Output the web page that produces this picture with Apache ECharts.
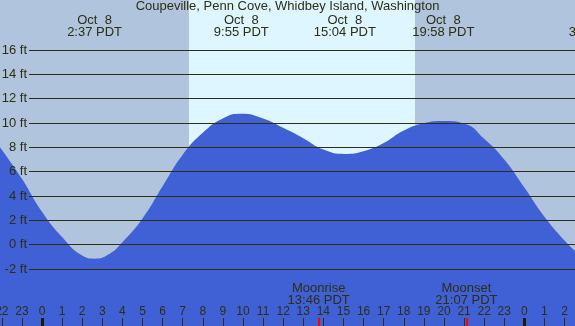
<!DOCTYPE html>
<html>
<head>
<meta charset="utf-8">
<script src="https://cdn.jsdelivr.net/npm/echarts@6/dist/echarts.min.js"></script>
<style>
html, body { margin: 0; padding: 0; background: #b0c4de; }
#main { width: 575px; height: 326px; }
</style>
</head>
<body>
<div id="main"></div>
<script>
// tide height (ft) against hours since midnight Oct 8
var tideHours = [-2.09, -1, 0, 1, 2, 2.62, 3.3, 4, 5, 6, 7, 8, 9, 9.92, 11, 12, 13,
    14, 15.07, 16, 17, 18, 19, 19.97, 21, 22, 23, 24, 25, 26, 26.52];
var tideFeet = [8.0, 5.42, 2.7, 0.62, -0.9, -1.15, -0.81, 0.2, 2.15, 4.8, 7.4, 9.2, 10.38, 10.76, 10.37, 9.6, 8.75,
    7.82, 7.46, 7.68, 8.35, 9.38, 9.97, 10.16, 9.96, 8.7, 7.0, 4.7, 2.3, 0.35, -0.5];

var eventHours = [2.617, 9.917, 15.067, 19.967];
var eventDays = ['Oct  8', 'Oct  8', 'Oct  8', 'Oct  8'];
var eventTimes = ['2:37 PDT', '9:55 PDT', '15:04 PDT', '19:58 PDT'];
var nextEventHour = 27.58;
var nextEventText = 'Oct  9\n3:35 PDT';

var sunHours = [7.31, 18.56];
var moonHours = [13.767, 21.117];
var moonNames = ['Moonrise', 'Moonset'];
var moonTimes = ['13:46 PDT', '21:07 PDT'];

var hourTicks = [-2, -1, 0, 1, 2, 3, 4, 5, 6, 7, 8, 9, 10, 11, 12, 13, 14, 15, 16, 17, 18, 19, 20, 21, 22, 23, 24, 25, 26];
var midnightTicks = [0, 24];

var xMin = -2.09, xMax = 26.52;
var ink = '#2e2e10';
var font = 'Liberation Sans';

function nearest(list, v) {
    var best = 0;
    for (var i = 1; i < list.length; i++) {
        if (Math.abs(list[i] - v) < Math.abs(list[best] - v)) best = i;
    }
    return best;
}

var tideData = tideHours.map(function (h, i) { return [h, tideFeet[i]]; });

var dom = document.getElementById('main');
var myChart = echarts.init(dom);

function xAxisBase(extra) {
    var a = {
        type: 'value', gridIndex: 0, min: xMin, max: xMax, z: 3,
        position: 'bottom',
        axisLine: { show: false, onZero: false },
        splitLine: { show: false },
        axisTick: { show: false },
        axisLabel: { show: false }
    };
    for (var k in extra) a[k] = extra[k];
    return a;
}

var option = {
    backgroundColor: '#b0c4de',
    animation: false,
    title: {
        text: 'Coupeville, Penn Cove, Whidbey Island, Washington',
        left: 'center', top: 0, padding: 0,
        textStyle: { fontSize: 13, fontWeight: 'normal', color: ink, fontFamily: font }
    },
    grid: [
        { left: 0, right: 0, top: 0, bottom: 0, outerBoundsMode: 'none' },
        { left: 29, right: 0, top: 50, bottom: 57, outerBoundsMode: 'none' }
    ],
    xAxis: [
        xAxisBase({
            axisTick: { show: true, inside: true, length: 8, customValues: hourTicks, lineStyle: { color: ink, width: 1 } },
            axisLabel: {
                show: true, inside: true, margin: 8, customValues: hourTicks,
                fontSize: 12, color: ink, fontFamily: font,
                formatter: function (v) { return String(((Math.round(v) % 24) + 24) % 24); }
            }
        }),
        xAxisBase({
            axisTick: { show: true, inside: true, length: 8, customValues: midnightTicks, lineStyle: { color: '#1c1c00', width: 3 } }
        }),
        xAxisBase({
            axisTick: { show: true, inside: true, length: 8, customValues: moonHours, lineStyle: { color: '#ff0000', width: 2 } },
            axisLabel: {
                show: true, inside: true, margin: 20, customValues: moonHours,
                fontSize: 13, lineHeight: 12, color: ink, fontFamily: font,
                formatter: function (v) { var i = nearest(moonHours, v); return moonNames[i] + '\n' + moonTimes[i]; }
            }
        }),
        xAxisBase({
            position: 'top',
            axisLabel: {
                show: true, inside: true, margin: 14, customValues: eventHours,
                fontSize: 13, lineHeight: 12, color: ink, fontFamily: font,
                formatter: function (v) { var i = nearest(eventHours, v); return eventDays[i] + '\n' + eventTimes[i]; }
            }
        }),
        { type: 'value', gridIndex: 1, min: xMin, max: xMax, show: false }
    ],
    yAxis: [
        { type: 'value', gridIndex: 0, min: -2 - 57 * 18 / 219, max: 16 + 50 * 18 / 219, show: false },
        {
            type: 'value', gridIndex: 1, min: -2, max: 16, interval: 2, z: 3,
            axisLine: { show: false }, axisTick: { show: false },
            axisLabel: { margin: 2, fontSize: 13, color: ink, fontFamily: font, formatter: '{value} ft' },
            splitLine: { show: true, lineStyle: { color: ink, width: 1 } }
        }
    ],
    series: [
        {
            name: 'tide', type: 'line', xAxisIndex: 0, yAxisIndex: 0,
            data: tideData, smooth: 0.5, showSymbol: false, z: 2,
            lineStyle: { width: 0 },
            itemStyle: { color: '#4060d6' },
            areaStyle: { color: '#4060d6', opacity: 1, origin: 'start' },
            markArea: {
                silent: true, z: 1,
                itemStyle: { color: '#ddf6ff', opacity: 1 },
                data: [[{ xAxis: sunHours[0] }, { xAxis: sunHours[1] }]]
            }
        }
    ]
};

myChart.setOption(option);

var nx = myChart.convertToPixel({ xAxisIndex: 0 }, nextEventHour);
myChart.setOption({
    graphic: [{
        type: 'text', x: nx, y: 14, z: 10,
        style: { text: nextEventText, fontSize: 13, lineHeight: 12, fill: ink, fontFamily: font, align: 'center', verticalAlign: 'top' }
    }]
});
</script>
</body>
</html>
